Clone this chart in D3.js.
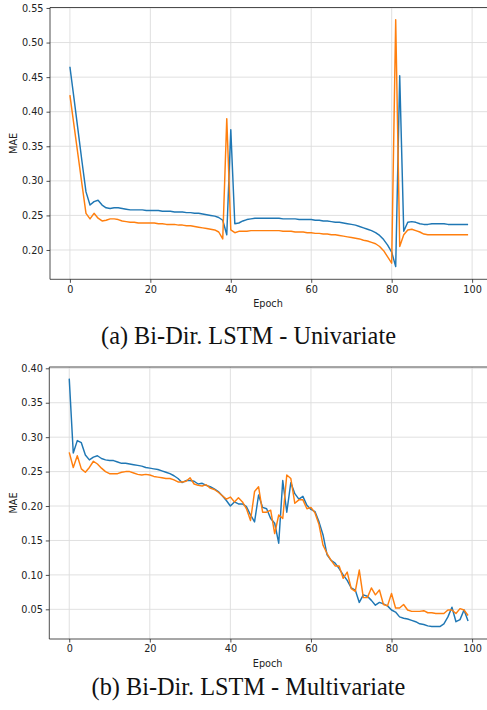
<!DOCTYPE html>
<html>
<head>
<meta charset="utf-8">
<script src="https://cdn.jsdelivr.net/npm/d3@7"></script>
<style>
html,body{margin:0;padding:0;background:#fff;}
svg{display:block;}
</style>
</head>
<body>
<svg id="chart" width="487" height="710"></svg>
<script>
// ---------- data ----------
const epochs = d3.range(0, 100);
const xTicks = [0, 20, 40, 60, 80, 100];

// (a) Univariate
const uniBlue = [
0.465,0.420,0.374,0.328,0.284,0.265,0.270,0.272,0.265,0.261,
0.260,0.261,0.261,0.260,0.259,0.258,0.258,0.258,0.258,0.257,
0.257,0.257,0.257,0.256,0.256,0.256,0.255,0.255,0.255,0.254,
0.254,0.253,0.253,0.252,0.251,0.250,0.249,0.247,0.243,0.222,
0.374,0.238,0.239,0.242,0.244,0.245,0.246,0.246,0.246,0.246,
0.246,0.246,0.246,0.245,0.245,0.245,0.245,0.244,0.244,0.244,
0.244,0.243,0.243,0.242,0.242,0.241,0.240,0.240,0.239,0.238,
0.237,0.236,0.234,0.232,0.230,0.228,0.225,0.221,0.215,0.207,
0.197,0.176,0.452,0.227,0.240,0.241,0.240,0.238,0.237,0.237,
0.238,0.238,0.238,0.238,0.237,0.237,0.237,0.237,0.237,0.237];
const uniOrange = [
0.424,0.381,0.338,0.295,0.253,0.245,0.253,0.246,0.242,0.243,
0.245,0.245,0.244,0.242,0.241,0.240,0.240,0.239,0.239,0.239,
0.239,0.239,0.238,0.238,0.237,0.237,0.237,0.236,0.236,0.235,
0.235,0.234,0.233,0.232,0.231,0.230,0.229,0.226,0.216,0.390,
0.229,0.225,0.227,0.227,0.227,0.228,0.228,0.228,0.228,0.228,
0.228,0.228,0.228,0.227,0.227,0.227,0.226,0.226,0.226,0.225,
0.225,0.224,0.224,0.223,0.223,0.222,0.222,0.221,0.220,0.219,
0.218,0.217,0.216,0.214,0.213,0.211,0.209,0.205,0.199,0.190,
0.181,0.533,0.205,0.222,0.229,0.230,0.228,0.226,0.223,0.222,
0.222,0.222,0.222,0.222,0.222,0.222,0.222,0.222,0.222,0.222];
const uniYTicks = [0.20,0.25,0.30,0.35,0.40,0.45,0.50,0.55];

// (b) Multivariate
const multiBlue = [
0.385,0.277,0.295,0.292,0.274,0.267,0.271,0.273,0.269,0.267,
0.266,0.266,0.264,0.262,0.262,0.261,0.260,0.259,0.258,0.256,
0.255,0.254,0.253,0.251,0.249,0.247,0.244,0.240,0.234,0.237,
0.237,0.236,0.232,0.233,0.230,0.228,0.225,0.221,0.215,0.208,
0.200,0.206,0.203,0.203,0.199,0.187,0.177,0.216,0.198,0.196,
0.182,0.175,0.146,0.237,0.191,0.234,0.218,0.210,0.214,0.201,
0.195,0.192,0.177,0.158,0.129,0.121,0.117,0.109,0.100,0.092,
0.081,0.078,0.060,0.071,0.069,0.063,0.056,0.060,0.058,0.055,
0.049,0.046,0.039,0.037,0.036,0.034,0.032,0.029,0.028,0.026,
0.025,0.025,0.025,0.029,0.039,0.053,0.032,0.035,0.049,0.033];
const multiOrange = [
0.278,0.256,0.273,0.254,0.249,0.256,0.265,0.261,0.255,0.250,
0.247,0.247,0.247,0.249,0.250,0.250,0.248,0.246,0.245,0.246,
0.245,0.243,0.242,0.241,0.240,0.240,0.238,0.235,0.235,0.236,
0.241,0.232,0.230,0.229,0.231,0.226,0.224,0.220,0.215,0.210,
0.213,0.206,0.212,0.206,0.196,0.179,0.221,0.228,0.191,0.191,
0.194,0.160,0.187,0.182,0.245,0.240,0.204,0.209,0.209,0.196,
0.198,0.190,0.173,0.143,0.131,0.121,0.113,0.113,0.095,0.104,
0.080,0.076,0.107,0.067,0.067,0.081,0.071,0.078,0.057,0.055,
0.073,0.052,0.052,0.057,0.049,0.047,0.047,0.047,0.048,0.045,
0.045,0.044,0.044,0.044,0.049,0.049,0.044,0.051,0.049,0.041];
const multiYTicks = [0.05,0.10,0.15,0.20,0.25,0.30,0.35,0.40];

const captions = ["(a) Bi-Dir. LSTM - Univariate", "(b) Bi-Dir. LSTM - Multivariate"];
const xLabel = "Epoch";
const yLabel = "MAE";

// ---------- drawing ----------
const svg = d3.select("#chart");
const BLUE = "#1f77b4", ORANGE = "#ff7f0e";

function panel(cfg) {
  const x = d3.scaleLinear().domain([-4.95, 103.95]).range([cfg.left, cfg.right]);
  const y = d3.scaleLinear().domain(cfg.yDomain).range([cfg.bottom, cfg.top]);
  const g = svg.append("g");

  // grid
  g.append("g").selectAll("line.vg").data(xTicks).join("line")
    .attr("x1", d => x(d)).attr("x2", d => x(d))
    .attr("y1", cfg.top).attr("y2", cfg.bottom)
    .attr("stroke", "#dcdcdc").attr("stroke-width", 0.9);
  g.append("g").selectAll("line.hg").data(cfg.yTicks).join("line")
    .attr("x1", cfg.left).attr("x2", cfg.right)
    .attr("y1", d => y(d)).attr("y2", d => y(d))
    .attr("stroke", "#dcdcdc").attr("stroke-width", 0.9);

  // lines
  const line = d3.line().x((d, i) => x(epochs[i])).y(d => y(d));
  [[cfg.blue, BLUE], [cfg.orange, ORANGE]].forEach(([vals, col]) => {
    g.append("path").datum(vals).attr("d", line)
      .attr("fill", "none").attr("stroke", col)
      .attr("stroke-width", 1.45).attr("stroke-linejoin", "round");
  });

  // axes
  const xAxis = d3.axisBottom(x).tickValues(xTicks).tickSize(3.5).tickPadding(3).tickFormat(d3.format("d"));
  const yAxis = d3.axisLeft(y).tickValues(cfg.yTicks).tickSize(3.5).tickPadding(3).tickFormat(d3.format(".2f"));
  const ga = g.append("g").attr("transform", `translate(0,${cfg.bottom})`).call(xAxis);
  const gy = g.append("g").attr("transform", `translate(${cfg.left},0)`).call(yAxis);
  [ga, gy].forEach(a => {
    a.select(".domain").remove();
    a.selectAll("line").attr("stroke", "#222").attr("stroke-width", 0.8);
    a.selectAll("text").attr("fill", "#222")
      .style("font-family", "DejaVu Sans").style("font-size", "9.7px");
  });
  // spines
  g.append("path")
    .attr("d", `M${cfg.right},${cfg.top}H${cfg.left}V${cfg.bottom}H${cfg.right}`)
    .attr("fill", "none").attr("stroke", "#222").attr("stroke-width", 0.8);

  // labels
  g.append("text").text(xLabel)
    .attr("x", (cfg.left + cfg.right) / 2 - 1).attr("y", cfg.bottom + 28)
    .attr("text-anchor", "middle").attr("fill", "#222")
    .style("font-family", "DejaVu Sans").style("font-size", "9.7px");
  g.append("text").text(yLabel)
    .attr("transform", `translate(16.5,${(cfg.top + cfg.bottom) / 2}) rotate(-90)`)
    .attr("text-anchor", "middle").attr("fill", "#222")
    .style("font-family", "DejaVu Sans").style("font-size", "9.7px");
  g.append("text").text(cfg.caption)
    .attr("x", 248.5).attr("y", cfg.captionY)
    .attr("text-anchor", "middle").attr("fill", "#111")
    .style("font-family", "Liberation Serif").style("font-size", "24.3px");
}

panel({left: 50, right: 488, top: 7.5, bottom: 279.3,
  yDomain: [0.1576, 0.5507], yTicks: uniYTicks,
  blue: uniBlue, orange: uniOrange, caption: captions[0], captionY: 344});
panel({left: 49.3, right: 488, top: 367, bottom: 639,
  yDomain: [0.0069, 0.4019], yTicks: multiYTicks,
  blue: multiBlue, orange: multiOrange, caption: captions[1], captionY: 695});
</script>
</body>
</html>
